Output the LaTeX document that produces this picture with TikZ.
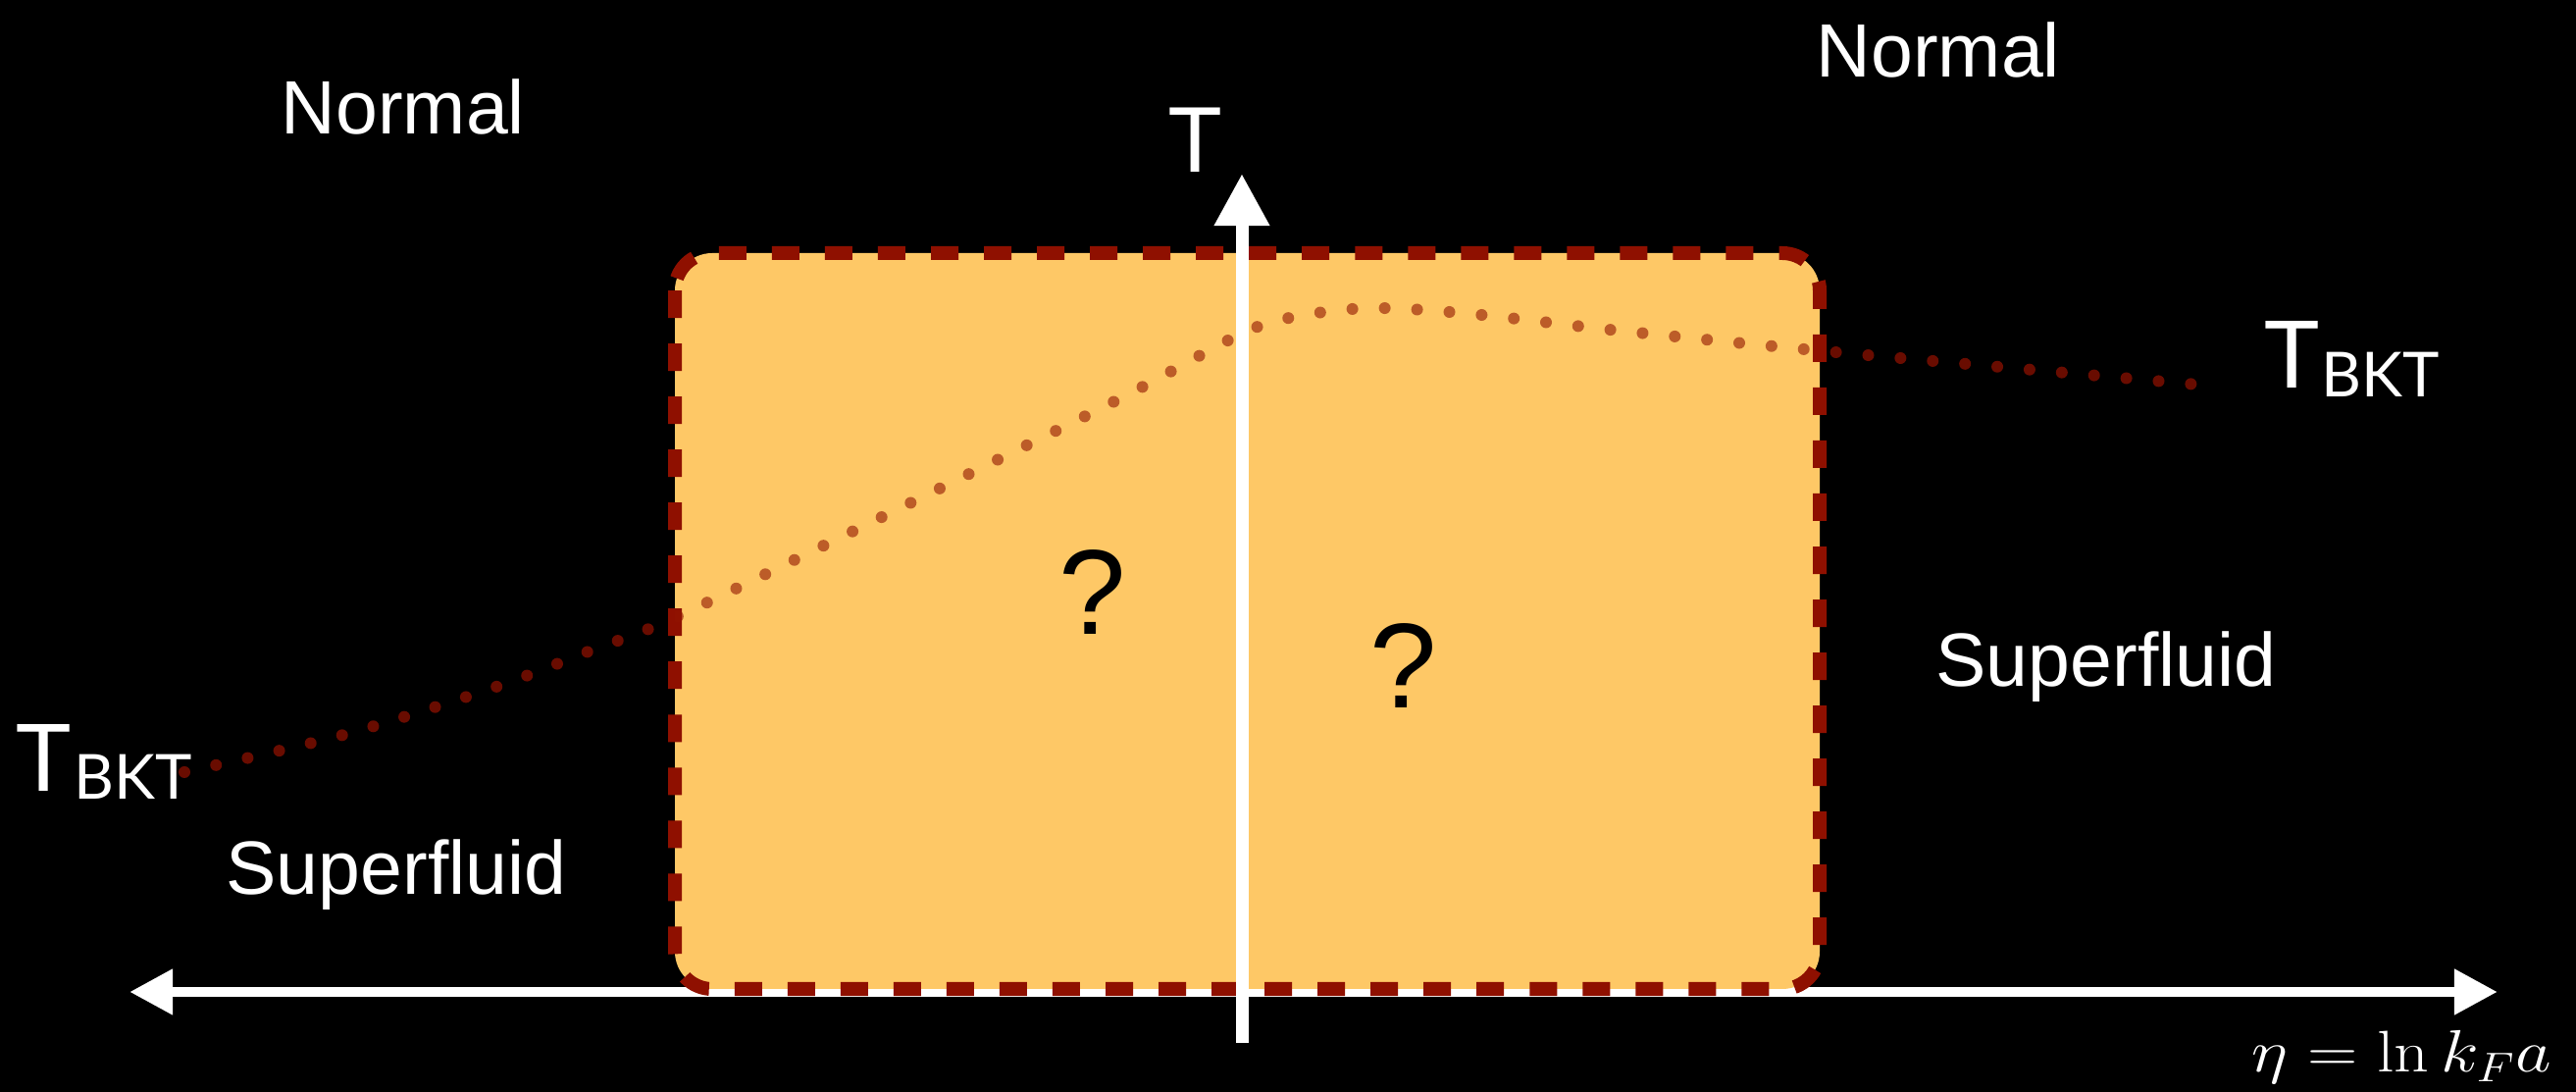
\documentclass[tikz,border=0pt]{standalone}
\usepackage{fontspec}
\newfontfamily\arialf{Liberation Sans}
\newfontfamily\tfont{Lato}
\usetikzlibrary{arrows.meta}
\definecolor{boxfill}{RGB}{254,200,102}
\definecolor{boxedge}{RGB}{143,16,0}
\definecolor{dotout}{RGB}{105,12,0}
\definecolor{dotin}{RGB}{145,20,0}
\tikzset{
  lbl/.style={text=white, font=\arialf\fontsize{21.9}{26}\selectfont, inner sep=0pt, anchor=base},
  qm/.style={text=black, font=\arialf\fontsize{35}{40}\selectfont, inner sep=0pt, anchor=base},
  tbig/.style={text=white, font=\tfont\fontsize{27}{30}\selectfont, inner sep=0pt, anchor=base west},
  tsub/.style={text=white, font=\tfont\fontsize{18}{21}\selectfont, inner sep=0pt, anchor=base west},
  dotline/.style={line width=0.12cm, line cap=round, dash pattern=on 0pt off 0.33cm},
  axis/.style={white, line width=0.105cm},
}
\begin{document}
\begin{tikzpicture}[x=0.01cm,y=-0.01cm]
\fill[black] (0,0) rectangle (2626,1113);
\useasboundingbox (0,0) rectangle (2626,1113);
% coordinates
\coordinate (xl) at (132,1011);
\coordinate (xr) at (2546,1011);
\coordinate (yb) at (1266,1063);
\coordinate (yt) at (1266,177);
% outer dotted curve
\draw[dotout, dotline] plot[smooth, tension=0.55] coordinates {(188,787) (350,749) (500,702) (600,664) (687,630) (850,551) (1000,477) (1150,402) (1268,339) (1325,322) (1400,314) (1500,320) (1650,337) (1850,357) (2050,375) (2263,394)};
% horizontal axis
\draw[axis, {Triangle[length=0.44cm,width=0.44cm]}-{Triangle[length=0.44cm,width=0.44cm]}] (xl) -- (xr);
% box
\fill[boxfill, rounded corners=0.38cm] (688,258) rectangle (1855,1008);
\draw[boxedge, line width=0.14cm, dash pattern=on 0.28cm off 0.26cm, rounded corners=0.38cm] (688,258) rectangle (1855,1008);
% vertical axis
\draw[white, line width=0.13cm, -{Triangle[length=0.53cm,width=0.53cm]}] (yb) -- (yt);
% inner dotted curve
\begin{scope}
\clip[rounded corners=0.38cm] (688,258) rectangle (1855,1008);
\draw[dotin, dotline, opacity=0.6] plot[smooth, tension=0.55] coordinates {(188,787) (350,749) (500,702) (600,664) (687,630) (850,551) (1000,477) (1150,402) (1268,339) (1325,322) (1400,314) (1500,320) (1650,337) (1850,357) (2050,375) (2263,394)};
\end{scope}
% labels
\node[lbl] (n1) at (411,137) {Normal};
\node[lbl] (n2) at (1976,79) {Normal};
\node[lbl] (s1) at (404,912) {Superfluid};
\node[lbl] (s2) at (2147,700) {Superfluid};
\node[qm] (q1) at (1114,647) {?};
\node[qm] (q2) at (1431,722) {?};
\node[text=white, font=\tfont\fontsize{26}{30}\selectfont, inner sep=0pt, anchor=base] (tax) at (1218,176) {T};
\node[tbig] (tl) at (16,807) {T};
\node[tsub] (tls) at (75,815) {BKT};
\node[tbig] (tr) at (2308,396) {T};
\node[tsub] (trs) at (2366,405) {BKT};
\node[text=white, font=\fontsize{17}{20}\selectfont, inner sep=0pt, anchor=base west, xscale=1.17] (eta) at (2295,1093) {$\eta=\ln k_Fa$};
\end{tikzpicture}
\end{document}
